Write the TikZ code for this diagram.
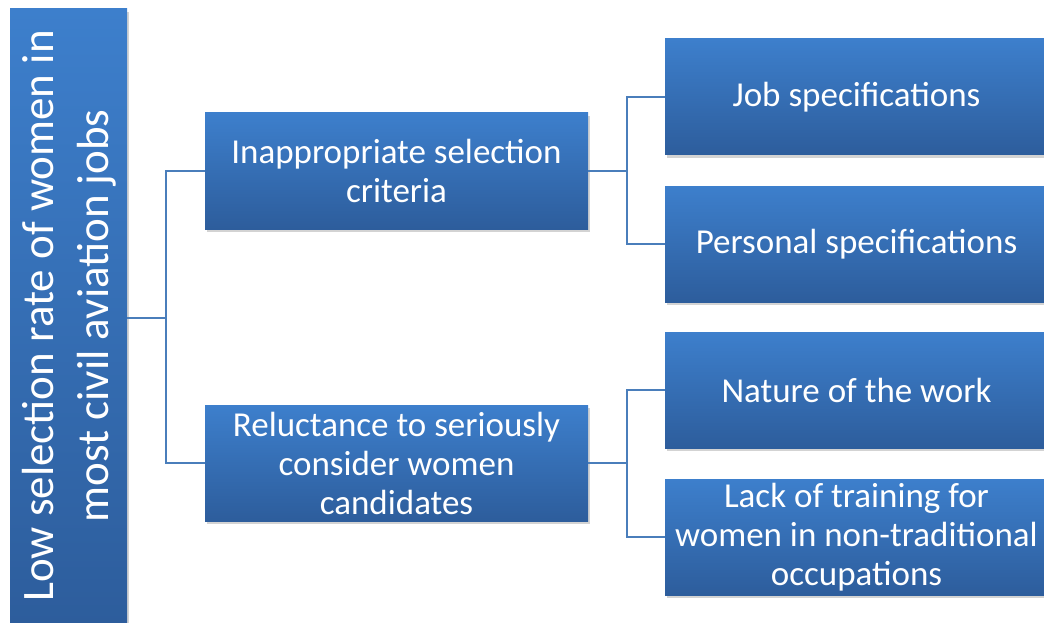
\documentclass[tikz,border=0pt]{standalone}
\usepackage{fontspec}
\setmainfont{Carlito}
\usetikzlibrary{shadows}
\definecolor{boxtop}{HTML}{3D7FCC}
\definecolor{boxbot}{HTML}{2D5D9C}
\definecolor{linec}{HTML}{4A7EBB}
\tikzset{
  box/.style={draw=none, top color=boxtop, bottom color=boxbot, text=white, align=center,
    inner sep=0pt, minimum width=383pt, minimum height=116pt,
    drop shadow={opacity=0.35, shadow xshift=2pt, shadow yshift=-3pt},
    font=\fontsize{35}{39}\selectfont},
  rootbox/.style={draw=none, top color=boxtop, bottom color=boxbot, text=white, align=center,
    inner sep=0pt, minimum width=117pt, minimum height=615pt,
    drop shadow={opacity=0.35, shadow xshift=2pt, shadow yshift=-3pt}},
  conn/.style={draw=linec, line width=1.3pt}
}
\begin{document}
\begin{tikzpicture}[x=1pt,y=-1pt]
\useasboundingbox (0,0) rectangle (1044,623);
\node[rootbox] (root) at (68.5,316.5) {};
\node[rotate=90, text=white, align=center, font=\fontsize{45}{55}\selectfont] (roottext) at (69.5,316) {Low selection rate of women in\\most civil aviation jobs};
\node[box] (m1) at (396.5,171) {Inappropriate selection\\criteria};
\node[box] (m2) at (396.5,463) {Reluctance to seriously\\consider women\\candidates};
\node[box] (r1) at (856.5,97) {Job specifications};
\node[box] (r2) at (856.5,244) {Personal specifications};
\node[box] (r3) at (856.5,390) {Nature of the work};
\node[box] (r4) at (856.5,537) {Lack of training for\\women in non-traditional\\occupations};
\coordinate (j0) at (166,318);
\coordinate (j1) at (627,171);
\coordinate (j2) at (627,463);
\draw[conn] (root.east |- j0) -- (j0);
\draw[conn] (j0) |- (m1.west);
\draw[conn] (j0) |- (m2.west);
\draw[conn] (m1.east) -- (j1);
\draw[conn] (j1) |- (r1.west);
\draw[conn] (j1) |- (r2.west);
\draw[conn] (m2.east) -- (j2);
\draw[conn] (j2) |- (r3.west);
\draw[conn] (j2) |- (r4.west);
\end{tikzpicture}
\end{document}
